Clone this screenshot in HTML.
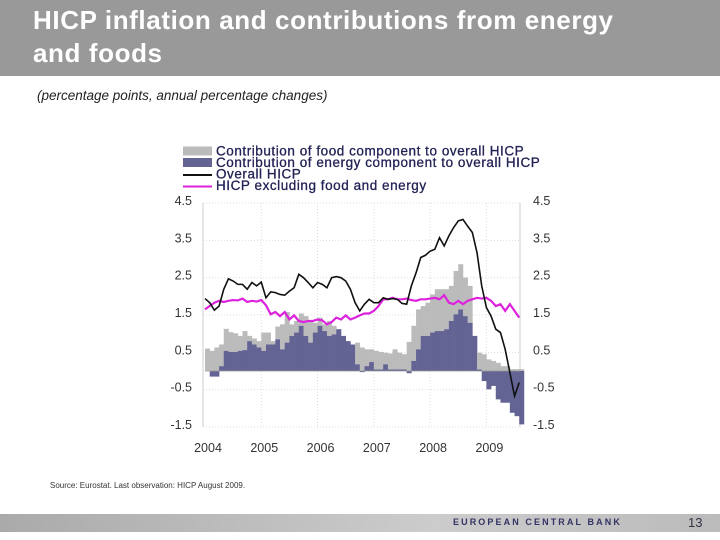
<!DOCTYPE html>
<html><head><meta charset="utf-8"><style>
body{margin:0;width:720px;height:540px;background:#fff;font-family:"Liberation Sans",sans-serif;position:relative;overflow:hidden}
#hdr{position:absolute;left:0;top:0;width:720px;height:76px;background:#999}
#title{position:absolute;left:33px;top:4px;color:#fff;font-weight:bold;font-size:26px;line-height:33px;letter-spacing:0.6px}
#sub{position:absolute;left:37px;top:88px;font-size:13.5px;font-style:italic;color:#222}
#src{position:absolute;left:50px;top:481px;font-size:8px;color:#333}
#foot{position:absolute;left:0;top:514px;width:720px;height:18px;background:linear-gradient(to right,#aaa,#ccc 60%,#bbb)}
#ecb{position:absolute;left:453px;top:517px;font-size:9px;font-weight:bold;letter-spacing:2.1px;color:#333366}
#pg{position:absolute;left:688px;top:515px;font-size:13px;color:#334}
svg{position:absolute;left:0;top:0}
</style></head><body>
<div id="hdr"></div>
<div id="title">HICP inflation and contributions from energy<br>and foods</div>
<div id="sub">(percentage points, annual percentage changes)</div>
<div id="src">Source: Eurostat. Last observation: HICP August 2009.</div>
<div id="foot"></div>
<div id="ecb">EUROPEAN CENTRAL BANK</div>
<div id="pg">13</div>
<svg id="chart" width="720" height="540"></svg>
<script>
const yTicks=[4.5,3.5,2.5,1.5,0.5,-0.5,-1.5];
const yearLabels=["2004","2005","2006","2007","2008","2009"];
const energy=[0.0,-0.15,-0.15,0.13,0.54,0.51,0.51,0.54,0.56,0.8,0.71,0.63,0.54,0.71,0.71,0.85,0.58,0.76,0.94,1.03,1.21,0.94,0.76,1.03,1.21,1.07,0.94,0.98,1.12,0.94,0.8,0.71,0.18,-0.03,0.13,0.24,0.04,0.04,0.18,0.04,0.04,0.04,0.04,-0.06,0.27,0.58,0.94,0.94,1.03,1.07,1.07,1.12,1.34,1.52,1.65,1.47,1.29,0.94,0.04,-0.27,-0.49,-0.4,-0.76,-0.85,-0.85,-1.12,-1.21,-1.43];
const food=[0.6,0.54,0.63,0.58,0.59,0.53,0.5,0.4,0.51,0.14,0.16,0.17,0.49,0.32,0.09,0.34,0.67,0.82,0.31,0.31,0.33,0.53,0.58,0.26,0.22,0.18,0.4,0.23,0.0,-0.14,-0.02,-0.06,0.58,0.63,0.45,0.34,0.5,0.47,0.31,0.43,0.54,0.45,0.41,0.78,0.94,1.07,0.8,0.89,1.02,1.12,1.12,1.07,0.94,1.16,1.21,1.03,0.99,0.0,0.45,0.45,0.31,0.27,0.22,0.13,0.13,0.05,0.05,0.05];
const hicp=[1.94,1.83,1.63,1.74,2.19,2.47,2.41,2.32,2.32,2.19,2.37,2.28,2.38,1.96,2.12,2.1,2.05,2.03,2.14,2.23,2.59,2.5,2.37,2.23,2.37,2.32,2.23,2.5,2.53,2.5,2.41,2.19,1.83,1.61,1.79,1.92,1.83,1.83,1.96,1.92,1.94,1.92,1.81,1.79,2.28,2.63,3.04,3.1,3.21,3.26,3.57,3.35,3.62,3.84,4.02,4.06,3.88,3.71,3.17,2.28,1.7,1.47,1.12,1.03,0.58,-0.04,-0.67,-0.31];
const core=[1.65,1.74,1.83,1.88,1.85,1.88,1.9,1.89,1.94,1.85,1.88,1.86,1.9,1.76,1.52,1.58,1.47,1.58,1.38,1.49,1.34,1.31,1.34,1.34,1.38,1.36,1.25,1.31,1.43,1.38,1.49,1.38,1.43,1.49,1.54,1.54,1.61,1.74,1.92,1.92,1.96,1.92,1.92,1.94,1.9,1.88,1.92,1.92,1.94,1.96,1.92,2.03,1.83,1.79,1.88,1.79,1.88,1.92,1.96,1.94,1.96,1.88,1.74,1.79,1.61,1.79,1.61,1.43];

const NS="http://www.w3.org/2000/svg";
const svg=document.getElementById('chart');
const X0=205,MW=4.69,Y0=203,YB=427;
const y=v=>Y0+(4.5-v)*(YB-Y0)/6;
const x=i=>X0+i*MW;
function mk(t,a,p){const e=document.createElementNS(NS,t);for(const k in a)e.setAttribute(k,a[k]);(p||svg).appendChild(e);return e;}
yTicks.forEach(v=>{
 const g=mk('line',{x1:X0-2,x2:520,y1:y(v),y2:y(v),stroke:'#ddd','stroke-width':1,'stroke-dasharray':'1,2'});
 
 
 const l=mk('text',{x:192,y:y(v)+2,'text-anchor':'end','font-size':12.5,fill:'#333'});l.textContent=v;
 
 
 const r=mk('text',{x:533,y:y(v)+2,'font-size':12.5,fill:'#333'});r.textContent=v;
 
 
});
yearLabels.forEach((t,k)=>{
 const gx=x(k*12);
 if(k>0){const g=mk('line',{x1:gx,x2:gx,y1:Y0,y2:YB,stroke:'#ddd','stroke-width':1,'stroke-dasharray':'1,2'});
 
 }
 const l=mk('text',{x:gx+3,y:452,'text-anchor':'middle','font-size':12.5,fill:'#333'});l.textContent=t;
 
 
});
mk('line',{x1:X0-2,x2:X0-2,y1:Y0,y2:YB,stroke:'#ccc'});
mk('line',{x1:520,x2:520,y1:Y0,y2:YB,stroke:'#ccc'});
energy.forEach((e,i)=>{
 const base=Math.max(e,0);
 const f=food[i];
 const fb=mk('rect',{x:x(i),width:MW+0.3,y:y(base+Math.max(f,0)),height:Math.abs(y(base)-y(base+Math.max(f,0))),fill:'#bbbbbb'});
 
 
 const eb=mk('rect',{x:x(i),width:MW+0.3,y:Math.min(y(e),y(0)),height:Math.abs(y(e)-y(0)),fill:'#636394'});
 
 
});
mk('line',{x1:X0,x2:520,y1:y(0),y2:y(0),stroke:'#999','stroke-width':0.8});
const pts=a=>a.map((v,i)=>x(i)+','+y(v)).join(' ');
const l1=mk('polyline',{points:pts(core),fill:'none',stroke:'#dd22dd','stroke-width':2.2});


const l2=mk('polyline',{points:pts(hicp),fill:'none',stroke:'#111','stroke-width':1.6});


const leg=[['rect','#bbbbbb','Contribution of food component to overall HICP'],['rect','#636394','Contribution of energy component to overall HICP'],['line','#111','Overall HICP'],['line','#dd22dd','HICP excluding food and energy']];
leg.forEach((d,k)=>{
 const cy=151+k*11.5;
 if(d[0]=='rect'){const s=mk('rect',{x:183,y:cy-4.5,width:29,height:9,fill:d[1]});}
 else{const s=mk('line',{x1:183,x2:212,y1:cy+1,y2:cy+1,stroke:d[1],'stroke-width':2});}
 const t=mk('text',{x:216,y:cy+4.5,'font-size':13.5,fill:'#222255','letter-spacing':0.55,stroke:'#222255','stroke-width':0.3});t.textContent=d[2];
 
 
});
</script>
</body></html>
